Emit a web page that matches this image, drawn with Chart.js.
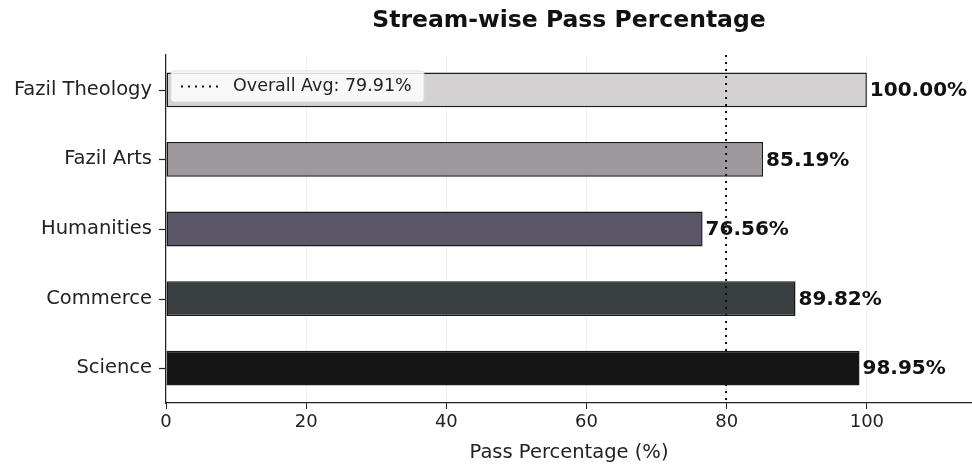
<!DOCTYPE html>
<html>
<head>
<meta charset="utf-8">
<script src="https://cdn.jsdelivr.net/npm/chart.js@4"></script>
<style>
html,body{margin:0;padding:0;background:#fff;}
#wrap{width:972px;height:465px;position:relative;}
</style>
</head>
<body>
<div id="wrap"><canvas id="c" width="972" height="465"></canvas></div>
<script>
const categories = ["Fazil Theology", "Fazil Arts", "Humanities", "Commerce", "Science"];
const passPct = [100.00, 85.19, 76.56, 89.82, 98.95];
const barColors = ["#d3d1d1", "#9d999d", "#5b5668", "#393e40", "#151515"];
const overallAvg = 79.91;
const xTicks = [0, 20, 40, 60, 80, 100];
const titleText = "Stream-wise Pass Percentage";
const xTitle = "Pass Percentage (%)";
const legendText = "Overall Avg: " + overallAvg.toFixed(2) + "%";

const FONT = "'DejaVu Sans', sans-serif";

const overlay = {
  id: 'overlay',
  afterDatasetsDraw(chart) {
    const ctx = chart.ctx;
    const xs = chart.scales.x, ys = chart.scales.y;
    const area = chart.chartArea;
    const meta = chart.getDatasetMeta(0);
    ctx.save();
    ctx.strokeStyle = "#222";
    ctx.lineWidth = 1.2;
    categories.forEach((c, i) => {
      const py = Math.round(ys.getPixelForValue(i)) + 0.5;
      ctx.beginPath();
      ctx.moveTo(area.left - 7, py);
      ctx.lineTo(area.left, py);
      ctx.stroke();
    });
    ctx.font = "bold 20px " + FONT;
    ctx.fillStyle = "#111";
    ctx.textBaseline = "middle";
    ctx.textAlign = "left";
    meta.data.forEach((bar, i) => {
      ctx.fillText(passPct[i].toFixed(2) + "%", bar.x + 3, bar.y + 1);
    });
    const ax = xs.getPixelForValue(overallAvg);
    ctx.strokeStyle = "#111";
    ctx.lineWidth = 2;
    ctx.setLineDash([2, 5]);
    ctx.beginPath();
    ctx.moveTo(ax, area.top);
    ctx.lineTo(ax, area.bottom);
    ctx.stroke();
    ctx.setLineDash([]);
    const lx = area.left + 5, ly = area.top + 16, lw = 253, lh = 31;
    ctx.fillStyle = "rgba(255,255,255,0.85)";
    ctx.strokeStyle = "#dddddd";
    ctx.lineWidth = 1;
    ctx.beginPath();
    ctx.roundRect(lx, ly, lw, lh, 3);
    ctx.fill();
    ctx.stroke();
    ctx.strokeStyle = "#111";
    ctx.lineWidth = 2;
    ctx.setLineDash([2, 5]);
    ctx.beginPath();
    ctx.moveTo(lx + 10, ly + lh / 2);
    ctx.lineTo(lx + 48, ly + lh / 2);
    ctx.stroke();
    ctx.setLineDash([]);
    ctx.fillStyle = "#222";
    ctx.font = "17.5px " + FONT;
    ctx.textBaseline = "middle";
    ctx.fillText(legendText, lx + 62, ly + lh / 2);
    ctx.font = "bold 23.5px " + FONT;
    ctx.textAlign = "center";
    ctx.fillStyle = "#111";
    ctx.fillText(titleText, (area.left + area.right) / 2, 21);
    ctx.restore();
  }
};

new Chart(document.getElementById('c'), {
  type: 'bar',
  data: {
    labels: categories,
    datasets: [{
      data: passPct,
      backgroundColor: barColors,
      borderColor: "#1a1a1a",
      borderWidth: 1.5,
      borderSkipped: false,
      categoryPercentage: 1.0,
      barPercentage: 0.5
    }]
  },
  options: {
    indexAxis: 'y',
    responsive: false,
    animation: false,
    layout: { padding: { top: 55, right: 0, left: 0, bottom: 0 } },
    plugins: { legend: { display: false }, tooltip: { enabled: false }, title: { display: false } },
    scales: {
      x: {
        min: 0, max: 115,
        afterBuildTicks: s => { s.ticks = xTicks.map(v => ({ value: v })); },
        afterFit: s => { s.height = 62; },
        border: { display: true, color: "#222", width: 1.2 },
        grid: { color: "rgba(0,0,0,0.06)", drawTicks: true, tickLength: 6, tickColor: "#222", tickWidth: 1 },
        ticks: { color: "#222", font: { family: FONT, size: 18 }, padding: 3 },
        title: { display: true, text: xTitle, color: "#222", font: { family: FONT, size: 19.5 }, padding: { top: 2, bottom: 0 } }
      },
      y: {
        afterFit: s => { s.width = 166; },
        border: { display: true, color: "#222", width: 1.2 },
        grid: { display: false },
        ticks: { color: "#222", font: { family: FONT, size: 19.5 }, padding: 6 }
      }
    }
  },
  plugins: [overlay]
});
</script>
</body>
</html>
